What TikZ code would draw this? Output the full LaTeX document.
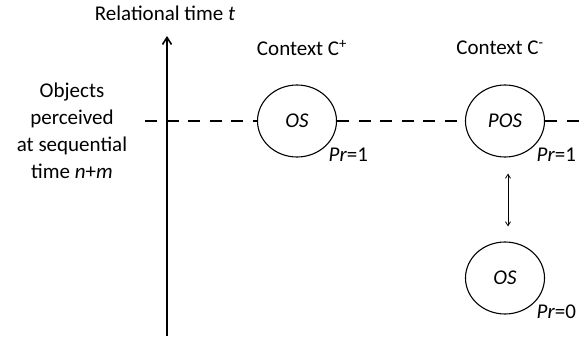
\documentclass[tikz,border=0pt]{standalone}
\usepackage{fontspec}
\setmainfont{Carlito}
\usetikzlibrary{arrows.meta,positioning,calc,shapes.geometric}
\tikzset{
  objnode/.style  = {draw, line width=1.1pt, ellipse, inner sep=0pt,
                     minimum width=79pt, minimum height=72pt,
                     font=\fontsize{21}{27}\selectfont\itshape},
  prlabel/.style  = {anchor=north west, inner sep=2pt},
  percept/.style  = {line width=1.3pt, dash pattern=on 12pt off 9.5pt},
  taxis/.style    = {-{Straight Barb[length=7pt,width=9pt]}, line width=1.6pt},
  link/.style     = {{Straight Barb[length=4pt,width=5pt]}-{Straight Barb[length=4pt,width=5pt]}, line width=0.8pt},
}

\begin{document}
\begin{tikzpicture}[x=1pt,y=-1pt,font=\fontsize{21}{27}\selectfont]
\useasboundingbox (0,0) rectangle (587,339);
% time axis
\coordinate (tbot) at (167,336);
\coordinate (ttop) at (167,36);
\draw[taxis] (tbot) -- (ttop);
\node (title) at (165,13) {Relational time \textit{t}};
\node[align=center] (objs) at (72,131) {Objects\\perceived\\at sequential\\time \textit{n}+\textit{m}};
% contexts
\node (cplus) at (302,48) {Context C\textsuperscript{+}};
\node (cminus) at (500,48) {Context C\textsuperscript{-}};
% objects
\node[objnode] (os) at (297,121) {OS};
\node[objnode] (pos) at (505,121) {POS};
\node[objnode] (os2) at (505,278) {OS};
\node[prlabel] (pr1) at (os.-40) {\textit{Pr}=1};
\node[prlabel] (pr2) at (pos.-40) {\textit{Pr}=1};
\node[prlabel] (pr3) at (os2.-40) {\textit{Pr}=0};
% perception line
\coordinate (dl) at (145,121);
\coordinate (dr) at (587,121);
\draw[percept] (dl) -- (os.west);
\draw[percept] (os.east) -- (pos.west);
\draw[percept] (pos.east) -- (dr);
\draw[link] ($(pos.south)+(3,16)$) -- ($(os2.north)+(3,-15)$);
\end{tikzpicture}
\end{document}
